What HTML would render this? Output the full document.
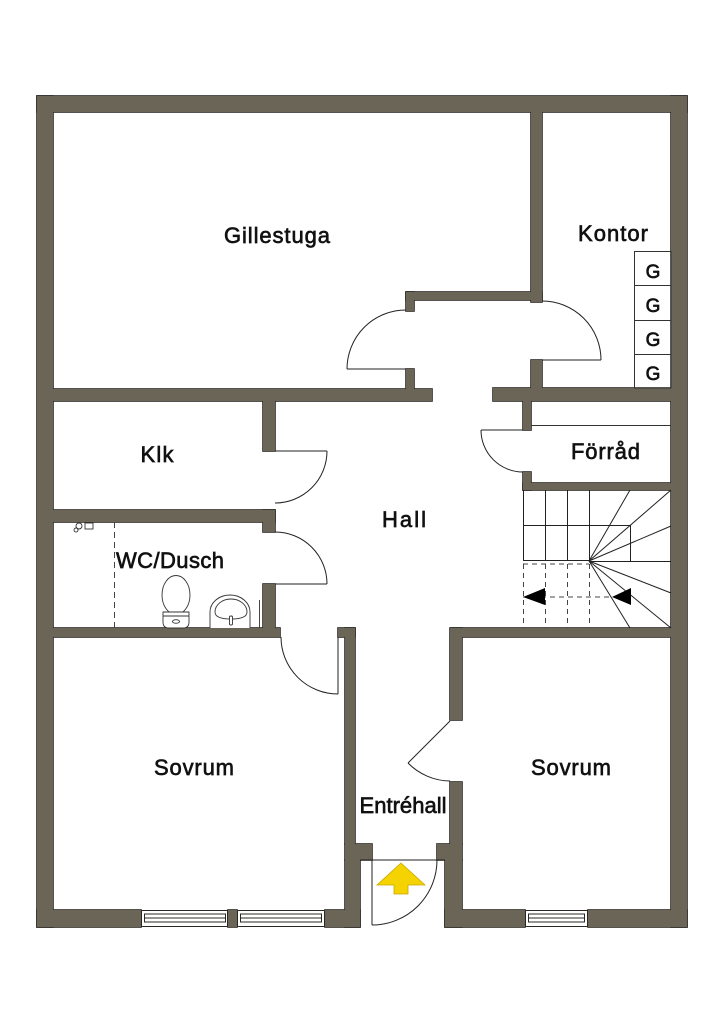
<!DOCTYPE html>
<html><head><meta charset="utf-8"><style>
html,body{margin:0;padding:0;background:#fff;}
svg{display:block;}
text{font-family:"Liberation Sans",sans-serif;font-size:22px;fill:#111;stroke:#111;stroke-width:0.65;}
</style></head><body>
<svg width="724" height="1024" viewBox="0 0 724 1024" xmlns="http://www.w3.org/2000/svg">
<rect x="0" y="0" width="724" height="1024" fill="#fff"/>
<g id="walls">
<g fill="#6a6557" stroke="#2a2824" stroke-width="1.6">
<rect x="37" y="96" width="650" height="16"/>
<rect x="37" y="96" width="16" height="831"/>
<rect x="671" y="96" width="16" height="831"/>
<rect x="37" y="910" width="104" height="17"/>
<rect x="228" y="910" width="9" height="17"/>
<rect x="325" y="910" width="35" height="17"/>
<rect x="445" y="910" width="80" height="17"/>
<rect x="588" y="910" width="99" height="17"/>
<rect x="53" y="389" width="379" height="12"/>
<rect x="493" y="388" width="178" height="13"/>
<rect x="531" y="112" width="11" height="190"/>
<rect x="406" y="292" width="136" height="8"/>
<rect x="406" y="292" width="8" height="19"/>
<rect x="406" y="369" width="8" height="21"/>
<rect x="531" y="360" width="11" height="30"/>
<rect x="523" y="400" width="8" height="30"/>
<rect x="523" y="472" width="8" height="18"/>
<rect x="523" y="483" width="148" height="7"/>
<rect x="263" y="400" width="12" height="51"/>
<rect x="53" y="510" width="222" height="12"/>
<rect x="263" y="510" width="12" height="22"/>
<rect x="263" y="584" width="12" height="45"/>
<rect x="53" y="628" width="227" height="9"/>
<rect x="338" y="628" width="17" height="9"/>
<rect x="345" y="628" width="10" height="216"/>
<rect x="345" y="844" width="27" height="16"/>
<rect x="345" y="860" width="15" height="67"/>
<rect x="451" y="628" width="220" height="9"/>
<rect x="450" y="628" width="12" height="92"/>
<rect x="450" y="782" width="12" height="62"/>
<rect x="437" y="844" width="25" height="16"/>
<rect x="445" y="860" width="17" height="67"/>
</g>
<g fill="#6a6557">
<rect x="37" y="96" width="650" height="16"/>
<rect x="37" y="96" width="16" height="831"/>
<rect x="671" y="96" width="16" height="831"/>
<rect x="37" y="910" width="104" height="17"/>
<rect x="228" y="910" width="9" height="17"/>
<rect x="325" y="910" width="35" height="17"/>
<rect x="445" y="910" width="80" height="17"/>
<rect x="588" y="910" width="99" height="17"/>
<rect x="53" y="389" width="379" height="12"/>
<rect x="493" y="388" width="178" height="13"/>
<rect x="531" y="112" width="11" height="190"/>
<rect x="406" y="292" width="136" height="8"/>
<rect x="406" y="292" width="8" height="19"/>
<rect x="406" y="369" width="8" height="21"/>
<rect x="531" y="360" width="11" height="30"/>
<rect x="523" y="400" width="8" height="30"/>
<rect x="523" y="472" width="8" height="18"/>
<rect x="523" y="483" width="148" height="7"/>
<rect x="263" y="400" width="12" height="51"/>
<rect x="53" y="510" width="222" height="12"/>
<rect x="263" y="510" width="12" height="22"/>
<rect x="263" y="584" width="12" height="45"/>
<rect x="53" y="628" width="227" height="9"/>
<rect x="338" y="628" width="17" height="9"/>
<rect x="345" y="628" width="10" height="216"/>
<rect x="345" y="844" width="27" height="16"/>
<rect x="345" y="860" width="15" height="67"/>
<rect x="451" y="628" width="220" height="9"/>
<rect x="450" y="628" width="12" height="92"/>
<rect x="450" y="782" width="12" height="62"/>
<rect x="437" y="844" width="25" height="16"/>
<rect x="445" y="860" width="17" height="67"/>
</g>
</g>

<!-- windows -->
<g fill="#fff" stroke="#2a2824" stroke-width="1">
<rect x="141.5" y="910.5" width="86" height="16"/>
<rect x="144.5" y="914" width="81" height="8"/>
<line x1="144.5" y1="918" x2="225.5" y2="918"/>
<rect x="237.5" y="910.5" width="87" height="16"/>
<rect x="240.5" y="914" width="81" height="8"/>
<line x1="240.5" y1="918" x2="321.5" y2="918"/>
<rect x="525.5" y="910.5" width="62" height="16"/>
<rect x="528.5" y="914" width="56" height="8"/>
<line x1="528.5" y1="918" x2="584.5" y2="918"/>
</g>

<!-- doors -->
<g fill="none" stroke="#222" stroke-width="1">
<line x1="347" y1="369" x2="406" y2="369"/>
<path d="M347,369 A59,59 0 0 1 406,310"/>
<line x1="542" y1="360" x2="601" y2="360"/>
<path d="M542,301 A59,59 0 0 1 601,360"/>
<line x1="275" y1="451" x2="327" y2="451"/>
<path d="M327,451 A52,52 0 0 1 275,503"/>
<line x1="275" y1="584" x2="327" y2="584"/>
<path d="M275,532 A52,52 0 0 1 327,584"/>
<line x1="481" y1="430" x2="523" y2="430"/>
<path d="M481,430 A42,42 0 0 0 523,472"/>
<line x1="338" y1="637" x2="338" y2="694"/>
<path d="M281,637 A57,57 0 0 0 338,694"/>
<line x1="450" y1="721" x2="408" y2="763"/>
<path d="M408,763 A60,60 0 0 0 450,781"/>
<line x1="360" y1="860" x2="445" y2="860"/>
<line x1="372" y1="860" x2="372" y2="925"/>
<path d="M372,925 A65,65 0 0 0 437,860"/>
</g>

<!-- Kontor G boxes -->
<g fill="none" stroke="#333" stroke-width="1">
<rect x="634.5" y="251.5" width="36.5" height="136.5"/>
<line x1="634.5" y1="285.5" x2="671" y2="285.5"/>
<line x1="634.5" y1="320.5" x2="671" y2="320.5"/>
<line x1="634.5" y1="354.5" x2="671" y2="354.5"/>
</g>
<line x1="531" y1="425.5" x2="671" y2="425.5" stroke="#333" stroke-width="1"/>

<!-- stairs -->
<g fill="none" stroke="#222" stroke-width="1">
<line x1="523.5" y1="490" x2="523.5" y2="561"/>
<line x1="545.5" y1="490" x2="545.5" y2="561"/>
<line x1="567.5" y1="490" x2="567.5" y2="561"/>
<line x1="589.5" y1="490" x2="589.5" y2="561"/>
<line x1="523" y1="525.5" x2="630" y2="525.5"/>
<line x1="523" y1="560.5" x2="589" y2="560.5"/>
<line x1="630.5" y1="525" x2="630.5" y2="562"/>
<line x1="589" y1="561.5" x2="671" y2="561.5"/>
<line x1="589" y1="561" x2="630" y2="490"/>
<line x1="589" y1="561" x2="671" y2="490"/>
<line x1="589" y1="561" x2="671" y2="526"/>
<line x1="589" y1="561" x2="671" y2="593"/>
<line x1="589" y1="561" x2="671" y2="628"/>
<line x1="589" y1="561" x2="630" y2="628"/>
</g>
<g fill="none" stroke="#444" stroke-width="1" stroke-dasharray="5,4">
<line x1="523.5" y1="564" x2="523.5" y2="628"/>
<line x1="545.5" y1="564" x2="545.5" y2="628"/>
<line x1="567.5" y1="564" x2="567.5" y2="628"/>
<line x1="589.5" y1="564" x2="589.5" y2="628"/>
<line x1="523" y1="564" x2="589" y2="564"/>
<line x1="523" y1="597" x2="612" y2="597"/>
</g>
<polygon points="523,597 545,588 545,605" fill="#000"/>
<polygon points="612,597 631,588 631,605" fill="#000"/>

<!-- WC fixtures -->
<line x1="114.5" y1="522" x2="114.5" y2="628" stroke="#444" stroke-width="1" stroke-dasharray="6,4"/>
<g fill="#fff" stroke="#333" stroke-width="0.9">
<rect x="85" y="523" width="8" height="6"/>
<circle cx="79" cy="526" r="3"/>
<circle cx="76" cy="530" r="2"/>
<ellipse cx="176" cy="595" rx="14" ry="19.5"/>
<path d="M163,612 L189,612 L189,622 Q189,628 183,628 L169,628 Q163,628 163,622 Z"/>
<line x1="163" y1="616" x2="189" y2="616"/>
<ellipse cx="176" cy="621.5" rx="3.5" ry="1.8"/>
<path d="M210,628 L210,612 A20,17 0 0 1 250,612 L250,628"/>
<path d="M215,612 A16,13 0 0 1 247,612 Q247,619 231,619 Q215,619 215,612 Z"/>
<rect x="229.5" y="616" width="3" height="9" rx="1.2"/>
<line x1="259.5" y1="600" x2="259.5" y2="628"/>
</g>

<!-- entry arrow -->
<polygon points="401,863 425,885 408,885 408,894 394,894 394,885 377,885" fill="#f5d300" stroke="#c9a800" stroke-width="0.8"/>

<!-- labels -->
<text x="277" y="243" text-anchor="middle" textLength="106" lengthAdjust="spacing">Gillestuga</text>
<text x="613" y="241" text-anchor="middle" textLength="70" lengthAdjust="spacing">Kontor</text>
<text x="653" y="278" text-anchor="middle" style="font-size:19px">G</text>
<text x="653" y="312" text-anchor="middle" style="font-size:19px">G</text>
<text x="653" y="346" text-anchor="middle" style="font-size:19px">G</text>
<text x="653" y="380" text-anchor="middle" style="font-size:19px">G</text>
<text x="157" y="462" text-anchor="middle" textLength="33" lengthAdjust="spacing">Klk</text>
<text x="170" y="568" text-anchor="middle" textLength="108" lengthAdjust="spacing">WC/Dusch</text>
<text x="404" y="527" text-anchor="middle" textLength="44" lengthAdjust="spacing">Hall</text>
<text x="605.5" y="459" text-anchor="middle" textLength="69" lengthAdjust="spacing">Förråd</text>
<text x="194" y="775" text-anchor="middle" textLength="80" lengthAdjust="spacing">Sovrum</text>
<text x="571" y="775" text-anchor="middle" textLength="80" lengthAdjust="spacing">Sovrum</text>
<text x="403" y="813" text-anchor="middle" textLength="87" lengthAdjust="spacing">Entréhall</text>
</svg>
</body></html>
